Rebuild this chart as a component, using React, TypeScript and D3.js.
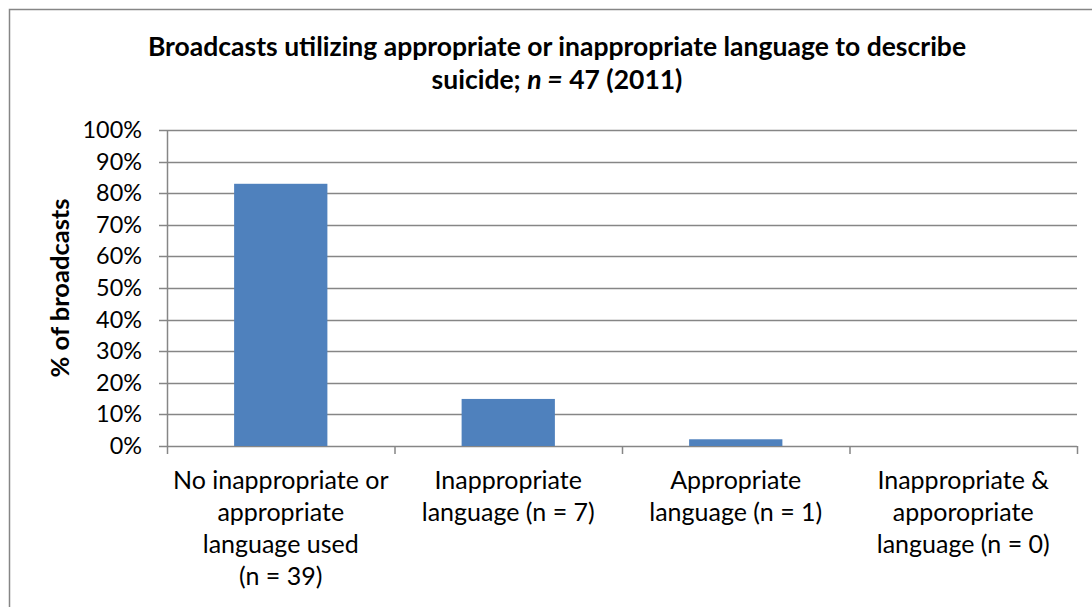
import React from "react";
import * as d3 from "d3";

const categories: string[][] = [
  ["No inappropriate or", "appropriate", "language used", "(n = 39)"],
  ["Inappropriate", "language (n = 7)"],
  ["Appropriate", "language (n = 1)"],
  ["Inappropriate &", "apporopriate", "language (n = 0)"],
];
const counts = [39, 7, 1, 0];
const total = 47;
const yTicks = [0, 0.1, 0.2, 0.3, 0.4, 0.5, 0.6, 0.7, 0.8, 0.9, 1.0];

const W = 1092, H = 607;
const FONT = "Lato, 'Open Sans', sans-serif";

export default function App() {
  const left = 167, right = 1077, top = 130, bottom = 446;
  const x = d3.scaleBand<number>().domain(categories.map((_, i) => i)).range([left, right]).paddingInner(0.59).paddingOuter(0.295);
  const band = d3.scaleBand<number>().domain(categories.map((_, i) => i)).range([left, right]);
  const y = d3.scaleLinear().domain([0, 1]).range([bottom, top]);
  const fmt = d3.format(".0%");
  return (
    <svg width={W} height={H} style={{ position: "absolute", left: 0, top: 0 }}>
      <rect x={0} y={0} width={W} height={H} fill="#fff" />
      <rect x={9.5} y={9.5} width={W + 20} height={H + 20} fill="none" stroke="#868686" strokeWidth={1.5} />
      <text x={557} y={56} textAnchor="middle" fontFamily={FONT} fontWeight="bold" fontSize={26.5} fill="#000">
        Broadcasts utilizing appropriate or inappropriate language to describe
      </text>
      <text x={557} y={89} textAnchor="middle" fontFamily={FONT} fontWeight="bold" fontSize={26.5} fill="#000">
        suicide; <tspan fontStyle="italic">n =</tspan> 47 (2011)
      </text>
      {yTicks.map((t) => (
        <g key={t}>
          <line x1={left - 8} x2={right} y1={Math.round(y(t)) + 0.5} y2={Math.round(y(t)) + 0.5} stroke="#868686" strokeWidth={1.5} />
          <text x={142} y={y(t) + 8} textAnchor="end" fontFamily={FONT} fontSize={23.4} fill="#000">
            {fmt(t)}
          </text>
        </g>
      ))}
      <line x1={left + 0.5} x2={left + 0.5} y1={top} y2={bottom + 8} stroke="#868686" strokeWidth={1.5} />
      {categories.map((_, i) => (
        <line key={i} x1={band(i)! + band.bandwidth() + 0.5} x2={band(i)! + band.bandwidth() + 0.5} y1={bottom} y2={bottom + 8} stroke="#868686" strokeWidth={1.5} />
      ))}
      {counts.map((c, i) => (
        <rect key={i} x={x(i)} y={y(c / total)} width={x.bandwidth()} height={bottom - y(c / total)} fill="#4f81bd" />
      ))}
      {categories.map((lines, i) => (
        <text key={i} textAnchor="middle" fontFamily={FONT} fontSize={25} fill="#000">
          {lines.map((l, j) => (
            <tspan key={j} x={band(i)! + band.bandwidth() / 2} y={489 + j * 32}>{l}</tspan>
          ))}
        </text>
      ))}
      <text transform={`translate(69,288) rotate(-90)`} textAnchor="middle" fontFamily={FONT} fontWeight="bold" fontSize={25.5} fill="#000">
        % of broadcasts
      </text>
    </svg>
  );
}
